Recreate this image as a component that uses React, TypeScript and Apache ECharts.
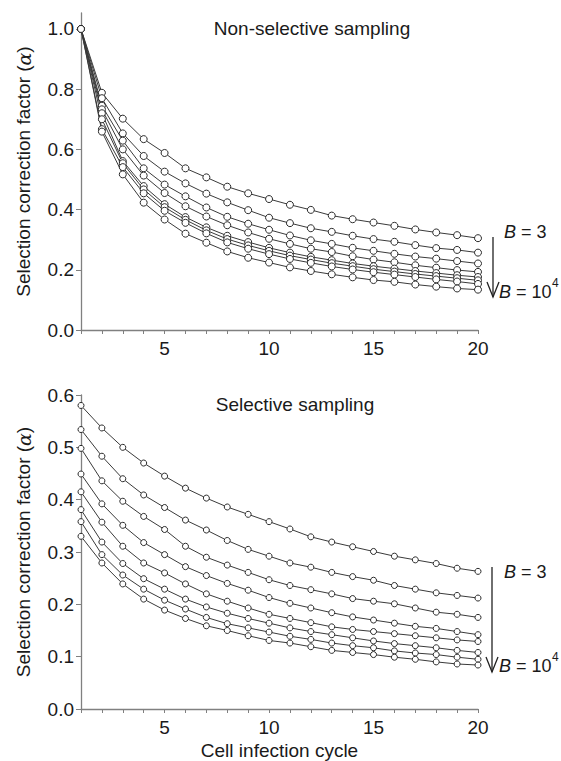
import React, { useEffect, useRef } from "react";
import * as echarts from "echarts";

const cycles = [1, 2, 3, 4, 5, 6, 7, 8, 9, 10, 11, 12, 13, 14, 15, 16, 17, 18, 19, 20];
const bLabels = ["3", "10", "30", "100", "300", "1000", "3000", "10000"];

// Non-selective sampling (top panel)
const ns1 = [1.0, 0.788, 0.702, 0.634, 0.588, 0.537, 0.507, 0.476, 0.454, 0.435, 0.416, 0.399, 0.38, 0.368, 0.357, 0.346, 0.334, 0.324, 0.315, 0.305];
const ns2 = [1.0, 0.77, 0.653, 0.578, 0.526, 0.487, 0.453, 0.424, 0.398, 0.373, 0.355, 0.338, 0.326, 0.313, 0.302, 0.293, 0.282, 0.272, 0.266, 0.257];
const ns3 = [1.0, 0.745, 0.629, 0.537, 0.483, 0.444, 0.407, 0.376, 0.353, 0.333, 0.314, 0.298, 0.286, 0.273, 0.263, 0.253, 0.244, 0.237, 0.229, 0.221];
const ns4 = [1.0, 0.733, 0.6, 0.513, 0.455, 0.411, 0.377, 0.348, 0.324, 0.303, 0.286, 0.27, 0.259, 0.245, 0.234, 0.225, 0.215, 0.207, 0.199, 0.193];
const ns5 = [1.0, 0.72, 0.561, 0.478, 0.418, 0.375, 0.341, 0.313, 0.292, 0.273, 0.257, 0.243, 0.232, 0.221, 0.212, 0.204, 0.196, 0.189, 0.182, 0.176];
const ns6 = [1.0, 0.7, 0.554, 0.467, 0.408, 0.366, 0.331, 0.302, 0.281, 0.263, 0.247, 0.234, 0.222, 0.212, 0.202, 0.194, 0.186, 0.179, 0.172, 0.165];
const ns7 = [1.0, 0.667, 0.541, 0.454, 0.396, 0.356, 0.321, 0.291, 0.27, 0.252, 0.236, 0.223, 0.211, 0.201, 0.192, 0.184, 0.176, 0.168, 0.161, 0.153];
const ns8 = [1.0, 0.659, 0.517, 0.423, 0.367, 0.32, 0.29, 0.261, 0.24, 0.224, 0.208, 0.196, 0.185, 0.175, 0.166, 0.16, 0.151, 0.144, 0.138, 0.134];

// Selective sampling (bottom panel)
const ss1 = [0.58, 0.537, 0.5, 0.47, 0.445, 0.422, 0.403, 0.386, 0.372, 0.358, 0.344, 0.329, 0.319, 0.31, 0.301, 0.292, 0.285, 0.278, 0.269, 0.263];
const ss2 = [0.534, 0.483, 0.44, 0.409, 0.385, 0.361, 0.342, 0.322, 0.305, 0.292, 0.279, 0.271, 0.261, 0.253, 0.246, 0.236, 0.229, 0.222, 0.217, 0.212];
const ss3 = [0.498, 0.436, 0.397, 0.368, 0.343, 0.311, 0.29, 0.275, 0.261, 0.247, 0.236, 0.228, 0.22, 0.211, 0.206, 0.201, 0.193, 0.185, 0.181, 0.175];
const ss4 = [0.449, 0.392, 0.351, 0.318, 0.295, 0.272, 0.255, 0.24, 0.227, 0.213, 0.202, 0.193, 0.184, 0.176, 0.17, 0.164, 0.158, 0.154, 0.148, 0.142];
const ss5 = [0.415, 0.357, 0.311, 0.279, 0.26, 0.239, 0.22, 0.206, 0.193, 0.181, 0.173, 0.165, 0.157, 0.152, 0.148, 0.144, 0.14, 0.136, 0.132, 0.129];
const ss6 = [0.381, 0.319, 0.278, 0.249, 0.229, 0.21, 0.195, 0.183, 0.173, 0.164, 0.155, 0.148, 0.142, 0.136, 0.13, 0.125, 0.121, 0.117, 0.112, 0.108];
const ss7 = [0.358, 0.295, 0.256, 0.229, 0.208, 0.191, 0.175, 0.163, 0.155, 0.147, 0.139, 0.133, 0.126, 0.121, 0.117, 0.111, 0.107, 0.104, 0.099, 0.095];
const ss8 = [0.33, 0.279, 0.239, 0.21, 0.189, 0.173, 0.159, 0.15, 0.14, 0.131, 0.126, 0.119, 0.112, 0.108, 0.104, 0.099, 0.095, 0.09, 0.086, 0.084];

const topSeries = [ns1, ns2, ns3, ns4, ns5, ns6, ns7, ns8];
const bottomSeries = [ss1, ss2, ss3, ss4, ss5, ss6, ss7, ss8];

const topTicks = [0, 0.2, 0.4, 0.6, 0.8, 1.0];
const bottomTicks = [0, 0.1, 0.2, 0.3, 0.4, 0.5, 0.6];

const FONT = "'Liberation Sans', Arial, sans-serif";
const TXT = "#1a1a1a";
const AX = "#808080";

export default function App() {
  const ref = useRef<HTMLDivElement>(null);
  useEffect(() => {
    if (!ref.current) return;
    const chart = echarts.init(ref.current, undefined, { renderer: "svg" });

    const xAxisBase = (gridIndex: number, withName: boolean) => ({
      type: "value",
      gridIndex,
      min: 1,
      max: 20,
      interval: 1,
      splitLine: { show: false },
      axisLine: { lineStyle: { color: AX, width: 1.3 } },
      axisTick: { length: 4, lineStyle: { color: AX, width: 1 } },
      axisLabel: {
        fontFamily: FONT,
        fontSize: 19,
        color: TXT,
        margin: 9,
        formatter: (v: number) => (v % 5 === 0 ? String(v) : ""),
      },
      name: withName ? "Cell infection cycle" : "",
      nameLocation: "middle",
      nameGap: 32,
      nameTextStyle: { fontFamily: FONT, fontSize: 19, color: TXT },
    });

    const yAxisBase = (gridIndex: number, max: number, interval: number, ticks: number[]) => ({
      type: "value",
      gridIndex,
      min: 0,
      max,
      interval,
      splitLine: { show: false },
      axisLine: { show: true, lineStyle: { color: AX, width: 1.3 } },
      axisTick: { show: true, length: 5, customValues: ticks, lineStyle: { color: AX, width: 1 } },
      axisLabel: {
        fontFamily: FONT,
        fontSize: 19,
        color: TXT,
        margin: 7,
        customValues: ticks,
        formatter: (v: number) => v.toFixed(1),
      },
      name: "Selection correction factor ({a|α})",
      nameLocation: "middle",
      nameRotate: 90,
      nameGap: 48,
      nameTextStyle: {
        fontFamily: FONT,
        fontSize: 19,
        color: TXT,
        rich: { a: { fontFamily: "'DejaVu Serif', serif", fontStyle: "italic", fontSize: 19, color: TXT } },
      },
    });

    const mk = (arr: number[][], idx: number, size: number, name: string) => ({
      type: "line",
      name,
      xAxisIndex: idx,
      yAxisIndex: idx,
      data: arr,
      symbol: "circle",
      symbolSize: size,
      showSymbol: true,
      lineStyle: { color: "#3a3a3a", width: 1 },
      itemStyle: { color: "#ffffff", borderColor: "#2a2a2a", borderWidth: 1 },
      z: 3,
    });

    const series: any[] = [];
    topSeries.forEach((vals, i) => {
      series.push(mk(cycles.map((c, j) => [c, vals[j]]), 0, 7, "Non-selective B=" + bLabels[i]));
    });
    bottomSeries.forEach((vals, i) => {
      series.push(mk(cycles.map((c, j) => [c, vals[j]]), 1, 6, "Selective B=" + bLabels[i]));
    });

    const txt = (x: number, y: number, text: string, extra: any = {}) => ({
      type: "text",
      x,
      y,
      style: {
        text,
        fontFamily: FONT,
        fontSize: 19,
        fill: TXT,
        verticalAlign: "middle",
        ...extra,
      },
    });

    const bText = (x: number, y: number, val: string) => ({
      type: "text",
      x,
      y,
      style: {
        text: "{i|B} = " + val,
        fontFamily: FONT,
        fontSize: 18,
        fill: TXT,
        verticalAlign: "middle",
        rich: { i: { fontFamily: FONT, fontStyle: "italic", fontSize: 18, color: TXT } },
      },
    });

    const arrow = (x: number, y1: number, y2: number) => [
      { type: "line", shape: { x1: x, y1, x2: x, y2 }, style: { stroke: "#222", lineWidth: 1.3 } },
      {
        type: "polyline",
        shape: { points: [[x - 6, y2 - 15], [x, y2], [x + 6, y2 - 15]] },
        style: { stroke: "#222", lineWidth: 1.3, fill: null },
      },
    ];

    const option: any = {
      animation: false,
      backgroundColor: "#ffffff",
      grid: [
        { left: 81, top: 13, width: 397, height: 317 },
        { left: 81, top: 395, width: 397, height: 315 },
      ],
      xAxis: [xAxisBase(0, false), xAxisBase(1, true)],
      yAxis: [yAxisBase(0, 1.053, 0.2, topTicks), yAxisBase(1, 0.6, 0.1, bottomTicks)],
      series,
      graphic: [
        txt(312, 28, "Non-selective sampling", { align: "center" }),
        txt(295, 404, "Selective sampling", { align: "center" }),
        bText(504, 232, "3"),
        bText(499, 292, "10"),
        txt(552, 283, "4", { fontSize: 12 }),
        bText(504, 572, "3"),
        bText(499, 666, "10"),
        txt(552, 657, "4", { fontSize: 12 }),
        ...arrow(493, 237, 297),
        ...arrow(492, 567, 672),
      ],
    };
    chart.setOption(option);
    return () => chart.dispose();
  }, []);
  return (
    <div
      ref={ref}
      style={{ position: "absolute", left: 0, top: 0, width: 561, height: 761, background: "#fff" }}
    />
  );
}
